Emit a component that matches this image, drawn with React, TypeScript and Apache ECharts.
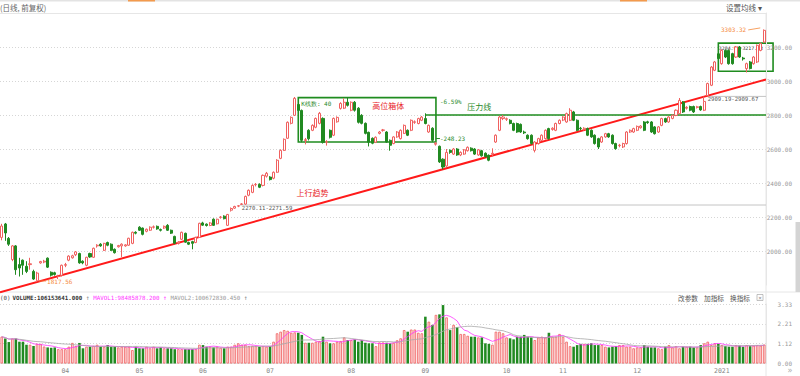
import React, { useEffect, useRef } from "react";
import * as echarts from "echarts";

// [open, close, low, high]
const candles: number[][] = [
  [2080, 2147, 2063, 2160], [2159, 2106, 2060, 2165], [2074, 2040, 2030, 2082], [1950, 2030, 1940, 2035],
  [2030, 1890, 1860, 2035], [1920, 1900, 1850, 1960], [1946, 1916, 1860, 1950], [1910, 1880, 1870, 1940],
  [1920, 1925, 1890, 1960], [1880, 1835, 1830, 1890], [1825, 1870, 1817.56, 1878], [1930, 1938, 1925, 1942],
  [1935, 1940, 1928, 1948], [1958, 1905, 1900, 1962], [1875, 1858, 1850, 1880], [1872, 1862, 1855, 1878],
  [1850, 1852, 1835, 1860], [1857, 1916, 1850, 1920], [1916, 1920, 1905, 1930], [1946, 1970, 1940, 1975],
  [1960, 1972, 1955, 1978], [1978, 1995, 1970, 2000], [1985, 1930, 1925, 1990], [1940, 1930, 1922, 1945],
  [1916, 1963, 1910, 1966], [1985, 1965, 1960, 1990], [1963, 2016, 1960, 2020], [2030, 2034, 2020, 2040],
  [2040, 2030, 2025, 2046], [2004, 2045, 2000, 2048], [2050, 2034, 2028, 2055], [2040, 2004, 2000, 2045],
  [2010, 1990, 1985, 2015], [2025, 2032, 2020, 2036], [2030, 2040, 1965, 2045], [2030, 2036, 2025, 2040],
  [2034, 2075, 2030, 2078], [2045, 2110, 2040, 2114], [2110, 2105, 2098, 2116], [2140, 2122, 2118, 2146],
  [2135, 2098, 2092, 2138], [2116, 2128, 2110, 2132], [2122, 2140, 2118, 2145], [2140, 2142, 2132, 2150],
  [2145, 2130, 2125, 2150], [2126, 2122, 2115, 2132], [2135, 2145, 2130, 2150], [2151, 2122, 2118, 2158],
  [2122, 2105, 2100, 2126], [2086, 2045, 2040, 2090], [2045, 2052, 2038, 2058], [2069, 2110, 2065, 2114],
  [2104, 2052, 2048, 2108], [2050, 2040, 2035, 2055], [2055, 2045, 2010, 2060], [2050, 2080, 2046, 2084],
  [2080, 2163, 2078, 2166], [2165, 2152, 2148, 2172], [2158, 2150, 2144, 2162], [2150, 2165, 2146, 2170],
  [2187, 2151, 2148, 2192], [2160, 2187, 2156, 2190], [2198, 2200, 2190, 2206], [2205, 2190, 2186, 2210],
  [2151, 2215, 2148, 2218], [2240, 2250, 2232, 2256], [2252, 2262, 2248, 2266], [2264, 2266, 2258, 2270.11],
  [2274, 2277, 2271.59, 2282], [2276, 2321, 2272, 2326], [2328, 2357, 2322, 2362], [2345, 2386, 2340, 2392],
  [2390, 2392, 2380, 2400], [2392, 2375, 2370, 2398], [2386, 2445, 2380, 2450], [2440, 2457, 2432, 2465],
  [2435, 2420, 2415, 2440], [2428, 2463, 2422, 2468], [2463, 2534, 2460, 2540], [2545, 2592, 2540, 2598],
  [2592, 2657, 2588, 2662], [2663, 2757, 2660, 2762], [2751, 2786, 2745, 2792], [2798, 2898, 2795, 2906],
  [2862, 2827, 2815, 2885], [2827, 2651, 2640, 2832], [2650, 2655, 2627, 2665], [2710, 2660, 2650, 2716],
  [2710, 2739, 2705, 2745], [2728, 2780, 2722, 2785], [2751, 2810, 2745, 2818], [2780, 2639, 2632, 2786],
  [2640, 2642, 2620, 2652], [2710, 2669, 2662, 2715], [2681, 2780, 2676, 2785], [2760, 2786, 2755, 2792],
  [2839, 2868, 2832, 2875], [2840, 2875, 2835, 2898], [2875, 2857, 2850, 2904], [2828, 2875, 2822, 2880],
  [2875, 2828, 2820, 2882], [2840, 2757, 2750, 2846], [2798, 2751, 2745, 2805], [2751, 2692, 2686, 2756],
  [2698, 2640, 2615, 2702], [2663, 2634, 2628, 2668], [2640, 2669, 2635, 2674], [2692, 2700, 2686, 2706],
  [2710, 2712, 2702, 2718], [2700, 2641, 2636, 2705], [2651, 2622, 2590, 2656], [2632, 2671, 2628, 2675],
  [2671, 2700, 2666, 2705], [2661, 2710, 2656, 2715], [2692, 2739, 2688, 2744], [2710, 2681, 2676, 2715],
  [2710, 2769, 2705, 2774], [2757, 2760, 2748, 2768], [2750, 2779, 2745, 2784], [2769, 2788, 2764, 2794],
  [2779, 2750, 2745, 2810], [2700, 2739, 2695, 2744], [2722, 2651, 2641, 2728], [2628, 2634, 2620, 2642],
  [2616, 2524, 2518, 2620], [2540, 2494, 2480, 2545], [2500, 2580, 2495, 2600], [2592, 2580, 2572, 2598],
  [2570, 2600, 2565, 2606], [2600, 2565, 2560, 2605], [2565, 2580, 2558, 2586], [2570, 2595, 2566, 2600],
  [2590, 2610, 2585, 2615], [2605, 2590, 2585, 2610], [2600, 2570, 2565, 2605], [2565, 2595, 2560, 2600],
  [2590, 2560, 2555, 2595], [2575, 2555, 2550, 2580], [2563, 2534, 2528, 2568], [2570, 2575, 2555, 2604],
  [2641, 2681, 2636, 2686], [2710, 2788, 2705, 2795], [2779, 2788, 2770, 2800], [2775, 2778, 2765, 2785],
  [2769, 2750, 2745, 2775], [2750, 2710, 2705, 2755], [2750, 2700, 2695, 2755], [2745, 2700, 2695, 2750],
  [2700, 2695, 2688, 2708], [2681, 2661, 2655, 2686], [2681, 2632, 2626, 2686], [2592, 2641, 2580, 2646],
  [2632, 2661, 2626, 2666], [2651, 2681, 2646, 2686], [2661, 2710, 2656, 2715], [2720, 2661, 2655, 2725],
  [2715, 2722, 2708, 2728], [2710, 2750, 2705, 2755], [2750, 2769, 2745, 2774], [2770, 2788, 2764, 2793],
  [2759, 2808, 2754, 2814], [2769, 2828, 2764, 2840], [2818, 2769, 2764, 2824], [2769, 2710, 2705, 2774],
  [2722, 2720, 2710, 2730], [2715, 2722, 2708, 2728], [2720, 2681, 2676, 2726], [2710, 2671, 2666, 2715],
  [2681, 2632, 2626, 2686], [2661, 2612, 2600, 2666], [2641, 2671, 2636, 2676], [2671, 2690, 2666, 2695],
  [2690, 2671, 2666, 2695], [2681, 2632, 2626, 2686], [2632, 2602, 2596, 2637], [2620, 2622, 2610, 2630],
  [2612, 2632, 2606, 2637], [2632, 2700, 2626, 2705], [2700, 2710, 2695, 2715], [2700, 2720, 2695, 2725],
  [2710, 2733, 2705, 2738], [2725, 2735, 2720, 2740], [2759, 2710, 2705, 2764], [2760, 2755, 2748, 2766],
  [2759, 2700, 2695, 2764], [2730, 2690, 2685, 2735], [2700, 2730, 2695, 2735], [2739, 2779, 2734, 2784],
  [2779, 2759, 2754, 2784], [2759, 2788, 2754, 2793], [2780, 2798, 2775, 2803], [2798, 2828, 2793, 2833],
  [2808, 2886, 2803, 2900], [2877, 2818, 2812, 2882], [2840, 2845, 2832, 2852], [2850, 2828, 2822, 2855],
  [2850, 2818, 2812, 2855], [2845, 2848, 2838, 2854], [2850, 2830, 2825, 2855], [2828, 2880, 2823, 2909.19],
  [2915, 2985, 2909.67, 2990], [2975, 3082, 2970, 3088], [3063, 3112, 3058, 3118], [3160, 3132, 3125, 3165],
  [3102, 3180, 3096, 3186], [3180, 3141, 3135, 3186], [3180, 3102, 3096, 3186], [3161, 3102, 3096, 3166],
  [3141, 3200, 3136, 3206], [3200, 3141, 3136, 3206], [3135, 3130, 3120, 3142], [3073, 3102, 3050, 3108],
  [3112, 3073, 3068, 3118], [3102, 3141, 3096, 3146], [3112, 3210, 3106, 3215], [3180, 3220, 3175, 3226],
  [3229, 3298, 3224, 3303.32],
];

// volume, 1e8 shares
const volumes: number[] = [
  1.5, 1.4, 1.2, 1.4, 1.4, 1.22, 1.22, 1.05, 1.05, 0.98, 1.1, 1.1, 0.95, 0.9, 0.88, 0.9, 0.8, 0.8,
  0.8, 0.94, 1.15, 0.98, 1.15, 0.85, 0.94, 0.94, 0.98, 1.05, 0.94, 0.94, 1.03, 0.94, 0.94, 0.9, 0.94, 0.94, 0.94, 0.75, 0.94,
  0.85, 0.85, 0.94, 0.85, 0.94, 0.85, 0.9, 0.85, 0.85, 0.85, 0.8, 0.8, 0.8, 0.8, 0.8, 0.8, 0.8, 1.05,
  1.03, 0.94, 0.94, 0.9, 0.94, 0.88, 0.85, 0.94, 0.94, 1.05, 1.13, 1.05, 1.05, 0.97, 0.99, 0.97, 0.94, 0.97, 0.94,
  0.97, 1.22, 1.69, 1.78, 1.87, 1.83, 1.72, 1.74, 1.72, 1.6, 1.16, 1.16, 1.16, 1.22, 1.26, 1.5, 1.22, 1.13, 1.13, 1.22, 1.26, 1.46, 1.31, 1.31,
  1.35, 1.22, 1.31, 1.16, 1.13, 1.13, 0.97, 1.18, 1.18, 1.16, 1.13, 1.16, 1.3,
  1.41, 1.87, 1.78, 1.9, 1.9, 1.72, 1.69,
  2.62, 2.34, 2.16, 2.72, 2.75, 3.27, 2.58, 1.87, 2.16, 2.03, 1.65, 1.65, 1.55, 1.5, 1.5, 1.46, 1.46, 1.13, 1.1, 1.05,
  1.78, 1.78, 1.69, 1.46, 1.41, 1.35, 1.5, 1.5, 1.6, 1.5, 1.46, 1.31, 1.46, 1.5, 1.46, 1.72, 1.5, 1.5,
  1.65, 1.5, 1.22, 0.97, 0.94, 1.03, 1.1, 1.1, 1.1, 1.13, 1.03, 1.03, 1.03, 0.94, 0.9, 0.94, 0.97, 1.03, 1.03, 0.94, 0.94, 0.85,
  0.9, 0.9, 1.03, 0.94, 0.9, 0.9, 0.85, 0.8, 0.94, 1.03, 0.9, 0.97, 0.85, 0.94, 0.94, 0.94, 0.9, 0.9, 1.03, 1.13, 1.22, 1.03, 1.13, 1.1,
  1.03, 0.97, 0.94, 0.94, 1.03, 1.0, 0.94, 1.03, 0.97, 1.0, 1.03, 1.0, 1.06,
];

const monthStarts = [18, 39, 57, 76, 99, 120, 143, 159, 180, 204];
const monthLabels = ["04", "05", "06", "07", "08", "09", "10", "11", "12", "2021"];

const priceMin = 1800;
const priceMax = 3400;
const priceStep = 200;
const volTickLabels = ["0.00", "1.12", "2.21", "3.33"];
const volMax = 3.33;
const volStep = 1.11;
const maPeriods = [5, 20];

const box1 = { from: 84, to: 123, top: 2902, bottom: 2641 };
const box1Texts = { count: "K线数: 40", title: "高位箱体", pct: "-6.59%", diff: "-248.23" };
const box2 = { from: 203, to: 216, top: 3223, bottom: 3057, label: "3204.93-3217.83" };
const trendLine = [[0, 1760], [216, 3006]];
const trendLabel = { at: 84, price: 2343, text: "上行趋势" };
const pressureLine = { from: 120, price: 2800, text: "压力线" };
const gaps = [
  { from: 68, price: 2270.5, text: "2270.11-2271.59" },
  { from: 200, price: 2909.4, text: "2909.19-2909.67" },
];

const headerLeft = "(日线, 前复权)";
const headerRight = "设置均线 ▾";
const volHeader = { idx: "(0)", vol: "VOLUME:106153641.000", ma1: "MAVOL1:98485878.200", ma2: "MAVOL2:100672830.450" };
const volTools = ["改参数", "加指标", "换指标"];

const MONO = '"DejaVu Sans Mono", "Liberation Mono", monospace';
const CJK = '"Noto Sans CJK SC", "Noto Sans", sans-serif';
const UP = "#f0605f";
const UP_FILL = "#ffffff";
const DOWN = "#218a21";
const BOX_GREEN = "#1f8c1f";
const ORANGE = "#f5893a";

function movingAverage(values: number[], n: number): number[] {
  return values.map((_, i) => {
    const s = Math.max(0, i - n + 1);
    let sum = 0;
    for (let k = s; k <= i; k++) sum += values[k];
    return +(sum / (i - s + 1)).toFixed(3);
  });
}

export default function App() {
  const ref = useRef<HTMLDivElement>(null);
  useEffect(() => {
    document.body.style.margin = "0";
    const el = ref.current!;
    const chart = echarts.init(el, undefined, { renderer: "svg" });
    const N = candles.length;
    const cats = candles.map((_, i) => String(i));
    const up = (c: number[]) => c[1] >= c[0];

    const option: any = {
      animation: false,
      backgroundColor: "#ffffff",
      grid: [
        { left: 0, right: 34, top: 13, height: 272 },
        { left: 0, right: 34, top: 304, height: 59.5 },
      ],
      xAxis: [
        {
          type: "category", gridIndex: 0, data: cats, boundaryGap: true,
          axisLine: { show: false }, axisTick: { show: false }, axisLabel: { show: false }, splitLine: { show: false },
        },
        {
          type: "category", gridIndex: 1, data: cats, boundaryGap: true,
          axisLine: { show: true, lineStyle: { color: "#e4e4e4" } }, axisTick: { show: false },
          splitLine: { show: false },
          axisLabel: {
            interval: (i: number) => monthStarts.includes(i),
            formatter: (_v: string, i: number) => {
              const k = monthStarts.indexOf(i);
              return k >= 0 ? monthLabels[k] : "";
            },
            color: "#888", fontSize: 6.5, fontFamily: MONO, margin: 4,
          },
        },
      ],
      yAxis: [
        {
          type: "value", gridIndex: 0, position: "right", min: priceMin, max: priceMax, interval: priceStep,
          axisLine: { show: true, lineStyle: { color: "#e6e6e6" } }, axisTick: { show: false },
          axisLabel: {
            showMinLabel: false, showMaxLabel: false, formatter: (v: number) => v.toFixed(2),
            color: "#999", fontSize: 6, fontFamily: MONO, align: "right", margin: 26,
          },
          splitLine: { show: true, showMinLine: false, showMaxLine: false, lineStyle: { color: "#d6d6d6", type: [1, 2], width: 1 } },
        },
        {
          type: "value", gridIndex: 1, position: "right", min: 0, max: volMax, interval: volStep,
          axisLine: { show: true, lineStyle: { color: "#e6e6e6" } }, axisTick: { show: false },
          axisLabel: {
            formatter: (v: number) => volTickLabels[Math.round(v / volStep)] ?? "",
            color: "#999", fontSize: 6, fontFamily: MONO, align: "right", margin: 26,
          },
          splitLine: { show: true, showMinLine: false, lineStyle: { color: "#d6d6d6", type: [1, 2], width: 1 } },
        },
      ],
      series: [
        {
          type: "candlestick", xAxisIndex: 0, yAxisIndex: 0, data: candles, barWidth: "72%",
          itemStyle: { color: UP_FILL, color0: DOWN, borderColor: UP, borderColor0: DOWN, borderWidth: 1 },
        },
        {
          type: "bar", xAxisIndex: 1, yAxisIndex: 1, barWidth: "72%",
          data: volumes.map((v, i) => ({
            value: v,
            itemStyle: up(candles[i])
              ? { color: "#fde2e2", borderColor: UP, borderWidth: 0.8 }
              : { color: DOWN },
          })),
        },
        {
          type: "line", xAxisIndex: 1, yAxisIndex: 1, data: movingAverage(volumes, maPeriods[0]),
          symbol: "none", lineStyle: { color: "#ff33ff", width: 0.8 }, z: 5,
        },
        {
          type: "line", xAxisIndex: 1, yAxisIndex: 1, data: movingAverage(volumes, maPeriods[1]),
          symbol: "none", lineStyle: { color: "#a8a8a8", width: 0.8 }, z: 5,
        },
      ],
    };
    chart.setOption(option);

    const pt = (i: number, v: number) => chart.convertToPixel({ gridIndex: 0 }, [i, v]) as number[];
    const band = pt(1, priceMin)[0] - pt(0, priceMin)[0];
    const rightX = pt(N - 1, priceMin)[0] + band / 2;
    const els: any[] = [];
    const txt = (x: number, y: number, text: string, fill: string, fontSize: number, fontFamily: string, align = "left", extra: any = {}) => ({
      type: "text", x, y, silent: true,
      style: { text, fill, fontSize, fontFamily, align, verticalAlign: "middle", ...extra },
    });
    const line = (x1: number, y1: number, x2: number, y2: number, stroke: string, lineWidth = 1) => ({
      type: "line", silent: true, shape: { x1, y1, x2, y2 }, style: { stroke, lineWidth },
    });

    // frame
    els.push({ type: "rect", silent: true, shape: { x: 0, y: 0, width: 800, height: 1.5 }, style: { fill: "#e3e3e3" } });
    els.push({ type: "rect", silent: true, shape: { x: 128, y: 0, width: 27, height: 1.5 }, style: { fill: "#f39a4d" } });
    els.push({ type: "rect", silent: true, shape: { x: 620, y: 0, width: 27, height: 1.5 }, style: { fill: "#f39a4d" } });
    els.push(line(0, 13.5, rightX, 13.5, "#e6e6e6"));
    els.push(line(0, 292, 800, 292, "#e6e6e6"));
    els.push(line(rightX, 13.5, rightX, 376, "#e6e6e6"));
    els.push({ type: "rect", silent: true, shape: { x: 795.5, y: 222, width: 4.5, height: 70 }, style: { fill: "#d4d4d4" } });
    els.push(txt(790, 370, "»", "#aaa", 8, MONO, "center"));
    els.push(txt(0, 7, headerLeft, "#666", 7.5, CJK));
    els.push(txt(726, 7, headerRight, "#555", 7.5, CJK));

    // volume header
    els.push({
      type: "text", x: 0, y: 297.5, silent: true,
      style: {
        text: `{d|${volHeader.idx}}{v|${volHeader.vol}} {g|↑} {m|${volHeader.ma1}} {mm|↑} {a|${volHeader.ma2}} {g|↑}`,
        verticalAlign: "middle", fontSize: 5.8, fontFamily: MONO,
        rich: {
          d: { fill: "#444", fontSize: 5.8, fontFamily: MONO, width: 12.5 },
          v: { fill: "#333", fontSize: 5.8, fontFamily: MONO, fontWeight: "bold" },
          g: { fill: "#888", fontSize: 6.5, fontFamily: MONO },
          m: { fill: "#ff33ff", fontSize: 5.8, fontFamily: MONO },
          mm: { fill: "#ff33ff", fontSize: 6.5, fontFamily: MONO },
          a: { fill: "#999", fontSize: 5.8, fontFamily: MONO },
        },
      },
    });
    volTools.forEach((t, k) => els.push(txt(678 + k * 26, 297.5, t, "#555", 6.7, CJK)));
    els.push({ type: "rect", silent: true, shape: { x: 757, y: 294.5, width: 6, height: 6 }, style: { fill: "#fff", stroke: "#999", lineWidth: 0.6 } });
    els.push(txt(760, 297.6, "×", "#888", 6, MONO, "center"));

    // gap lines
    gaps.forEach((g) => {
      const p = pt(g.from, g.price);
      els.push(line(p[0] - band / 2, p[1], rightX, p[1], "#c4c4c4"));
      els.push(txt(p[0], p[1] + 3, g.text, "#555", 5.6, MONO));
    });

    // trend line
    const t0 = pt(trendLine[0][0], trendLine[0][1]);
    const t1 = pt(trendLine[1][0], trendLine[1][1]);
    const slope = (t1[1] - t0[1]) / (t1[0] - t0[0]);
    els.push(line(0, t0[1] - slope * t0[0], rightX, t0[1] + slope * (rightX - t0[0]), "#ff1a1a", 2));
    const tl = pt(trendLabel.at, trendLabel.price);
    els.push(txt(tl[0] - band / 2, tl[1], trendLabel.text, "#e8252a", 8, CJK));

    // pressure line
    const pl = pt(pressureLine.from, pressureLine.price);
    els.push(line(pl[0], pl[1], rightX, pl[1], BOX_GREEN, 1.5));
    els.push(txt(pl[0] + 42, pl[1] - 9, pressureLine.text, "#2a8a2a", 8, CJK));

    // box 1
    const b1a = pt(box1.from, box1.top);
    const b1b = pt(box1.to, box1.bottom);
    els.push({ type: "rect", silent: true, shape: { x: b1a[0], y: b1a[1], width: b1b[0] - b1a[0], height: b1b[1] - b1a[1] }, style: { fill: "none", stroke: BOX_GREEN, lineWidth: 1.6 } });
    els.push(txt(b1a[0] + 3, b1a[1] + 6, box1Texts.count, "#2a8a2a", 6, MONO));
    els.push(txt(b1a[0] + 74, b1a[1] + 8, box1Texts.title, "#e8252a", 8, CJK));
    els.push(txt(b1b[0] + 4, b1a[1] + 4, box1Texts.pct, "#2a8a2a", 6, MONO));
    els.push(line(b1b[0], b1b[1] - 3.5, b1b[0] + 4, b1b[1] - 3.5, "#2a8a2a"));
    els.push(txt(b1b[0] + 4, b1b[1] - 3.5, box1Texts.diff, "#2a8a2a", 6, MONO));

    // box 2
    const b2a = pt(box2.from, box2.top);
    const b2b = pt(box2.to, box2.bottom);
    els.push({ type: "rect", silent: true, shape: { x: b2a[0], y: b2a[1], width: b2b[0] + band * 2.5 - b2a[0], height: b2b[1] - b2a[1] }, style: { fill: "none", stroke: BOX_GREEN, lineWidth: 1.6 } });
    els.push(txt(b2a[0] + 0.5, b2a[1] + 4.5, box2.label, "#444", 4.9, MONO));

    // high / low markers
    let hi = 0, lo = 0;
    candles.forEach((c, i) => {
      if (c[3] > candles[hi][3]) hi = i;
      if (c[2] < candles[lo][2]) lo = i;
    });
    const hp = pt(hi, candles[hi][3]);
    els.push(line(hp[0] - 16, hp[1] + 0.5, hp[0] - 4, hp[1] - 1.5, ORANGE, 0.8));
    els.push(txt(hp[0] - 18, hp[1] + 0.5, candles[hi][3].toFixed(2), ORANGE, 6, MONO, "right"));
    const lp = pt(lo, candles[lo][2]);
    els.push(line(lp[0] + 2, lp[1] - 1, lp[0] + 9, lp[1] - 1, ORANGE, 0.8));
    els.push(txt(lp[0] + 10, lp[1] - 1, candles[lo][2].toFixed(2), ORANGE, 6, MONO));

    chart.setOption({ graphic: { elements: els } });
    return () => chart.dispose();
  }, []);
  return <div ref={ref} style={{ width: 800, height: 376 }} />;
}
